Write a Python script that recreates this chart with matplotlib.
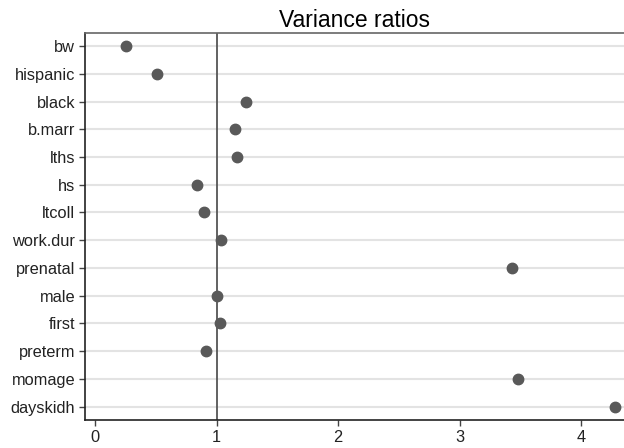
import matplotlib
matplotlib.use('Agg')
import matplotlib.pyplot as plt

plt.rcParams['font.family'] = ['Liberation Sans', 'DejaVu Sans']

variables = ['bw', 'hispanic', 'black', 'b.marr', 'lths', 'hs', 'ltcoll',
             'work.dur', 'prenatal', 'male', 'first', 'preterm', 'momage', 'dayskidh']
ratios = [0.255, 0.51, 1.24, 1.15, 1.17, 0.84, 0.90,
          1.035, 3.43, 1.005, 1.03, 0.915, 3.48, 4.28]

fig = plt.figure(figsize=(6.24, 4.48), dpi=100)
ax = fig.add_axes([0.1362, 0.0625, 0.8638, 0.8638])

ypos = list(range(len(variables)))
for y in ypos:
    ax.axhline(y, color='#e3e3e3', lw=1.5, zorder=0)
ax.axvline(1, color='#555555', lw=1.3, zorder=1)
ax.plot(ratios, ypos, 'o', color='#595959', markersize=7.5, zorder=3)

ax.set_yticks(ypos)
ax.set_yticklabels(variables)
ax.set_ylim(len(variables) - 1 + 0.48, -0.47)
ax.set_xlim(-0.082, 4.35)
ax.set_xticks([0, 1, 2, 3, 4])
ax.tick_params(axis='both', labelsize=11.8, colors='#222222', length=4, width=1, pad=3)
ax.tick_params(axis='x', color='#444444')
ax.tick_params(axis='y', color='#444444')

for s in ['left', 'bottom']:
    ax.spines[s].set_color('#222222')
    ax.spines[s].set_linewidth(1.2)
ax.spines['top'].set_color('#666666')
ax.spines['top'].set_linewidth(1.2)
ax.spines['right'].set_visible(False)

ax.set_title('Variance ratios', fontsize=16.5, pad=4)

fig.savefig('out.png', dpi=100)
